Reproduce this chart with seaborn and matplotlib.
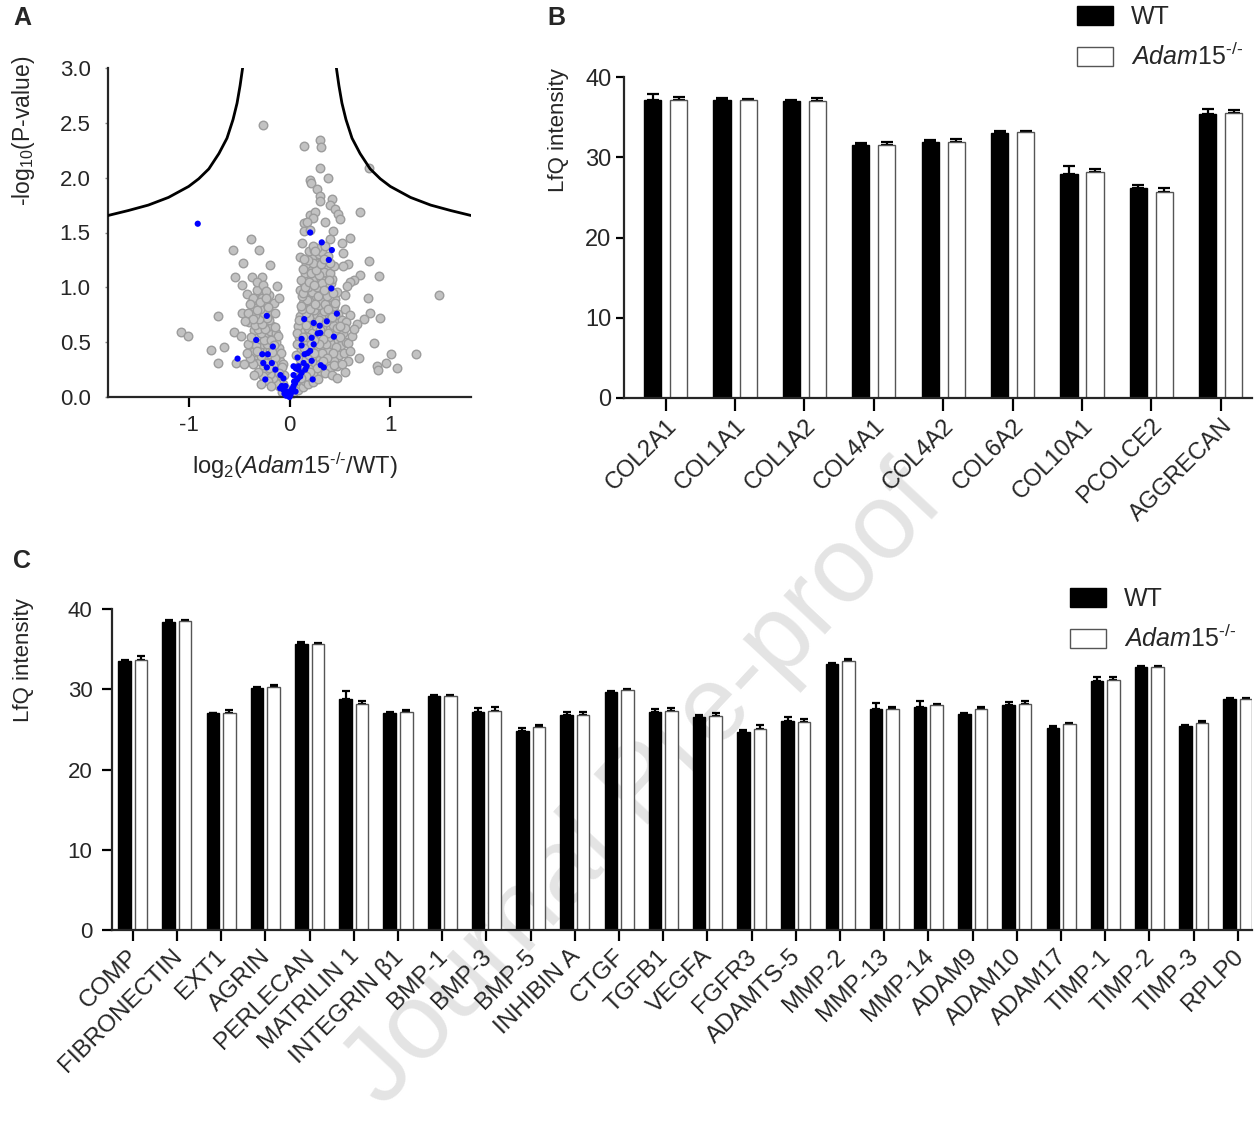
import numpy as np
import pandas as pd
import matplotlib
matplotlib.use("Agg")
import matplotlib.pyplot as plt
import matplotlib.transforms as mtransforms
import seaborn as sns
from matplotlib.patches import Patch
from matplotlib import font_manager

# ---------------- data ----------------
# Panel A: volcano (x = log2 fold change, y = -log10 p)
gray_pts = [
    # right arm
    (0.03,0.04),(0.05,0.09),(0.08,0.06),(0.10,0.12),(0.06,0.15),(0.13,0.09),(0.15,0.15),(0.09,0.19),(0.18,0.12),
    (0.12,0.22),(0.20,0.18),(0.23,0.14),(0.16,0.24),(0.26,0.20),(0.08,0.27),(0.21,0.27),(0.29,0.24),(0.13,0.30),
    (0.25,0.31),(0.33,0.27),(0.18,0.33),(0.10,0.35),(0.30,0.35),(0.37,0.31),(0.22,0.37),(0.15,0.40),(0.27,0.41),
    (0.34,0.39),(0.41,0.36),(0.11,0.44),(0.19,0.45),(0.31,0.45),(0.38,0.43),(0.24,0.48),(0.45,0.41),(0.14,0.50),
    (0.28,0.52),(0.35,0.50),(0.42,0.48),(0.20,0.54),(0.09,0.55),(0.32,0.57),(0.39,0.55),(0.48,0.52),(0.16,0.59),
    (0.25,0.59),(0.36,0.62),(0.44,0.60),(0.12,0.64),(0.21,0.64),(0.29,0.66),(0.40,0.67),(0.17,0.69),(0.33,0.71),
    (0.25,0.72),(0.47,0.70),(0.10,0.74),(0.20,0.76),(0.37,0.75),(0.28,0.78),(0.43,0.79),(0.15,0.80),(0.32,0.82),
    (0.23,0.83),(0.39,0.85),(0.13,0.86),(0.27,0.88),(0.35,0.90),(0.19,0.91),(0.45,0.89),(0.30,0.95),(0.16,0.96),
    (0.24,0.97),(0.38,0.97),(0.21,1.02),(0.33,1.01),(0.14,1.04),(0.28,1.06),(0.41,1.04),(0.18,1.09),(0.25,1.12),
    (0.35,1.10),(0.30,1.16),(0.20,1.17),(0.37,1.18),(0.16,1.21),(0.26,1.22),(0.33,1.25),(0.22,1.28),(0.29,1.30),
    (0.19,1.33),(0.11,0.61),(0.14,0.70),(0.18,0.63),(0.22,0.58),(0.26,0.65),(0.30,0.61),(0.23,0.68),(0.19,0.73),
    (0.27,0.75),(0.31,0.73),(0.16,0.77),(0.24,0.79),(0.34,0.78),(0.21,0.87),(0.29,0.84),(0.17,0.88),(0.26,0.92),
    (0.33,0.94),(0.12,0.92),(0.22,0.96),(0.18,1.00),(0.27,1.00),(0.36,1.03),(0.23,1.07),(0.31,1.08),(0.15,1.13),
    (0.21,1.13),(0.28,1.19),(0.34,1.14),(0.12,0.80),(0.08,0.65),(0.07,0.48),(0.06,0.38),(0.17,0.49),(0.26,0.46),
    (0.21,0.42),(0.16,0.35),(0.30,0.30),(0.12,0.26),(0.23,0.22),(0.36,0.48),(0.32,0.40),(0.40,0.62),(0.43,0.66),
    (0.46,0.57),(0.41,0.72),(0.44,0.83),(0.39,0.91),(0.48,0.76),(0.50,0.63),(0.53,0.58),(0.51,0.47),(0.49,0.38),
    (0.44,0.33),(0.40,0.26),(0.35,0.22),(0.28,0.16),(0.42,0.20),(0.47,0.28),(0.54,0.40),(0.56,0.50),(0.52,0.70),
    (0.55,0.80),(0.47,0.96),(0.42,1.08),(0.40,1.13),(0.44,1.19),(0.40,1.22),(0.36,1.27),(0.24,1.34),(0.32,1.32),
    (0.27,1.36),(0.38,1.29),(0.13,1.17),(0.11,1.07),(0.10,0.98),
    (0.07,0.58),(0.09,0.70),(0.11,0.83),(0.13,0.95),(0.15,1.00),(0.17,0.55),(0.19,0.38),(0.24,0.40),(0.27,0.55),
    (0.29,0.70),(0.31,0.88),(0.35,0.85),(0.37,0.92),(0.32,1.04),(0.29,1.11),(0.26,1.16),(0.23,1.22),(0.18,1.25),
    (0.31,1.21),(0.39,1.07),(0.43,0.95),(0.45,0.75),(0.36,0.68),(0.38,0.58),(0.33,0.53),(0.29,0.48),(0.24,0.52),
    (0.21,0.48),(0.14,0.45),(0.13,0.55),(0.16,0.66),(0.20,0.80),(0.25,0.85),(0.28,0.92),(0.34,0.98),(0.19,1.05),
    (0.24,1.02),(0.38,0.80),(0.42,0.73),(0.47,0.63),(0.50,0.55),(0.46,0.46),(0.43,0.40),(0.37,0.36),(0.33,0.33),
    (0.27,0.26),(0.20,0.23),(0.16,0.19),(0.11,0.17),
    # left arm
    (-0.02,0.04),(-0.04,0.08),(-0.07,0.05),(-0.06,0.12),(-0.10,0.10),(-0.09,0.16),(-0.13,0.13),(-0.12,0.20),
    (-0.16,0.17),(-0.08,0.22),(-0.15,0.24),(-0.19,0.21),(-0.11,0.27),(-0.18,0.28),(-0.23,0.25),(-0.14,0.31),
    (-0.21,0.32),(-0.26,0.29),(-0.09,0.33),(-0.17,0.35),(-0.24,0.36),(-0.29,0.33),(-0.12,0.38),(-0.20,0.39),
    (-0.27,0.40),(-0.33,0.38),(-0.15,0.42),(-0.23,0.43),(-0.30,0.44),(-0.36,0.41),(-0.10,0.45),(-0.18,0.47),
    (-0.26,0.48),(-0.33,0.47),(-0.13,0.50),(-0.21,0.52),(-0.29,0.53),(-0.16,0.55),(-0.24,0.57),(-0.32,0.56),
    (-0.19,0.60),(-0.27,0.61),(-0.13,0.58),(-0.35,0.61),(-0.22,0.64),(-0.30,0.66),(-0.17,0.65),(-0.25,0.68),
    (-0.33,0.70),(-0.20,0.70),(-0.28,0.73),(-0.37,0.74),(-0.23,0.76),(-0.31,0.78),(-0.18,0.77),(-0.26,0.81),
    (-0.35,0.82),(-0.21,0.82),(-0.29,0.86),(-0.24,0.88),(-0.33,0.91),(-0.38,0.86),(-0.20,0.93),(-0.27,0.95),
    (-0.32,0.98),(-0.08,0.40),(-0.06,0.30),(-0.05,0.20),(-0.21,0.15),(-0.26,0.19),(-0.31,0.23),(-0.18,0.10),
    (-0.36,0.30),(-0.39,0.36),(-0.41,0.48),(-0.38,0.55),(-0.40,0.68),(-0.11,0.56),(-0.14,0.64),
    (-0.07,0.27),(-0.10,0.22),(-0.14,0.36),(-0.19,0.43),(-0.22,0.48),(-0.25,0.52),(-0.28,0.58),(-0.31,0.62),
    (-0.34,0.66),(-0.18,0.52),(-0.15,0.47),(-0.24,0.62),(-0.27,0.67),(-0.22,0.72),(-0.30,0.71),(-0.34,0.75),
    (-0.25,0.77),(-0.29,0.80),(-0.32,0.85),(-0.27,0.90),(-0.36,0.88),(-0.16,0.29),(-0.20,0.26),(-0.23,0.31),
    (-0.28,0.37),(-0.32,0.42),(-0.17,0.41),
    # outliers
    (-0.26,2.48),(0.30,2.34),(0.315,2.28),(0.14,2.29),(0.30,2.09),(0.79,2.09),(0.20,1.98),(0.215,1.95),
    (0.38,2.00),(0.27,1.90),(0.42,1.81),(0.30,1.83),(0.30,1.79),(0.405,1.75),(0.45,1.71),(0.48,1.67),
    (0.50,1.62),(0.70,1.69),(0.205,1.66),(0.255,1.69),(0.23,1.63),(0.14,1.59),(0.17,1.60),(0.35,1.60),
    (0.14,1.51),(0.20,1.52),(0.43,1.51),(0.60,1.45),(0.52,1.40),(0.405,1.44),(0.35,1.38),(0.12,1.40),
    (0.23,1.38),(0.255,1.33),(-0.385,1.44),(-0.56,1.34),(-0.30,1.34),(0.53,1.31),(0.10,1.28),(0.14,1.26),
    (0.34,1.26),(-0.46,1.22),(-0.19,1.20),(0.79,1.24),(0.58,1.21),(0.53,1.19),(-0.54,1.09),(-0.37,1.09),
    (-0.275,1.09),(-0.475,1.02),(-0.325,1.05),(-0.26,1.02),(-0.12,1.01),(-0.23,0.97),(0.70,1.11),(0.64,1.07),
    (0.60,1.05),(0.57,1.01),(0.89,1.10),(1.48,0.93),(0.55,0.93),(0.78,0.90),(0.45,0.86),(-0.425,0.94),
    (-0.36,0.90),(-0.39,0.85),(-0.29,0.87),(-0.23,0.90),(-0.15,0.86),(-0.10,0.90),(-0.475,0.77),(-0.41,0.77),
    (-0.325,0.79),(-0.215,0.82),(-0.14,0.77),(-0.36,0.71),(-0.71,0.74),(-0.44,0.69),(0.60,0.75),(0.80,0.77),
    (0.90,0.72),(0.74,0.71),(0.67,0.67),(0.56,0.68),(0.55,0.63),(0.50,0.65),(-1.08,0.59),(-1.01,0.56),
    (-0.55,0.59),(-0.48,0.56),(-0.645,0.46),(-0.78,0.43),(-0.71,0.31),(-0.53,0.31),(0.84,0.49),(0.58,0.49),
    (0.60,0.42),(0.69,0.36),(1.25,0.39),(1.01,0.39),(0.96,0.31),(0.87,0.28),(0.88,0.25),(1.07,0.26),
    (0.55,0.23),(0.47,0.17),(0.44,0.29),(-0.42,0.40),(-0.45,0.30),(-0.35,0.20),(-0.28,0.12),(0.58,0.33),
    (0.52,0.30),(0.62,0.56),(0.64,0.62),
]
blue_pts = [
    (-0.91,1.58),(0.205,1.50),(0.32,1.41),(0.42,1.34),(0.39,1.25),(0.415,0.99),(0.47,0.76),(-0.225,0.74),
    (0.146,0.71),(0.24,0.675),(0.37,0.69),(0.30,0.65),(0.28,0.58),(0.305,0.585),(0.44,0.55),(0.12,0.53),
    (0.22,0.54),(-0.33,0.52),(0.12,0.47),(0.24,0.48),(-0.165,0.46),(-0.27,0.39),(-0.215,0.39),(0.205,0.42),
    (0.18,0.40),(0.15,0.39),(0.08,0.36),(-0.515,0.35),(0.14,0.31),(0.22,0.33),(-0.26,0.31),(-0.175,0.31),
    (-0.225,0.27),(0.04,0.28),(0.09,0.28),(0.17,0.28),(0.31,0.29),(0.34,0.27),(-0.14,0.25),(-0.24,0.16),
    (-0.09,0.20),(-0.06,0.17),(0.23,0.16),(0.04,0.20),(0.0,0.0),(-0.027,0.05),(-0.04,0.10),(-0.076,0.10),
    (0.02,0.066),(0.04,0.10),(0.056,0.127),(0.073,0.157),(0.106,0.187),(0.09,0.25),(0.12,0.22),(0.156,0.25),
    (0.063,0.26),(-0.01,0.036),(0.017,0.042),(0.033,0.08),(-0.06,0.066),(-0.093,0.08),(0.046,0.14),
    (0.083,0.17),(-0.033,0.012),(0.01,0.02),(0.06,0.05),(-0.05,0.03),
]
# significance threshold curve
curve_left_x = [-1.80, -1.60, -1.40, -1.20, -1.00, -0.90, -0.80, -0.70, -0.62, -0.56, -0.52, -0.49, -0.465]
curve_left_y = [1.655, 1.70, 1.75, 1.82, 1.92, 1.99, 2.08, 2.22, 2.36, 2.53, 2.68, 2.84, 3.00]
curve_right_x = [0.465, 0.49, 0.52, 0.56, 0.62, 0.70, 0.80, 0.90, 1.00, 1.20, 1.40, 1.60, 1.80]
curve_right_y = [3.00, 2.84, 2.68, 2.53, 2.36, 2.22, 2.08, 1.99, 1.92, 1.82, 1.75, 1.70, 1.655]

# Panel B
b_genes = ["COL2A1", "COL1A1", "COL1A2", "COL4A1", "COL4A2", "COL6A2", "COL10A1", "PCOLCE2", "AGGRECAN"]
b_wt = [37.17, 37.10, 36.96, 31.50, 31.90, 33.04, 27.90, 26.20, 35.40]
b_wt_err = [0.67, 0.33, 0.20, 0.25, 0.25, 0.20, 0.96, 0.30, 0.67]
b_ko = [37.17, 37.10, 37.04, 31.50, 31.96, 33.17, 28.20, 25.70, 35.50]
b_ko_err = [0.40, 0.17, 0.30, 0.38, 0.33, 0.12, 0.30, 0.46, 0.33]

# Panel C
c_genes = ["COMP", "FIBRONECTIN", "EXT1", "AGRIN", "PERLECAN", "MATRILIN 1", "INTEGRIN β1", "BMP-1",
           "BMP-3", "BMP-5", "INHIBIN A", "CTGF", "TGFB1", "VEGFA", "FGFR3", "ADAMTS-5", "MMP-2",
           "MMP-13", "MMP-14", "ADAM9", "ADAM10", "ADAM17", "TIMP-1", "TIMP-2", "TIMP-3", "RPLP0"]
c_wt = [33.5, 38.4, 27.0, 30.2, 35.6, 28.8, 27.0, 29.2, 27.2, 24.8, 26.8, 29.6, 27.2, 26.5, 24.7,
        26.1, 33.2, 27.5, 27.8, 26.9, 28.0, 25.2, 31.0, 32.75, 25.4, 28.8]
c_wt_err = [0.2, 0.25, 0.1, 0.1, 0.35, 1.0, 0.2, 0.1, 0.5, 0.35, 0.4, 0.2, 0.3, 0.35, 0.27,
            0.4, 0.1, 0.75, 0.7, 0.2, 0.4, 0.2, 0.5, 0.13, 0.1, 0.13]
c_ko = [33.6, 38.5, 27.1, 30.3, 35.6, 28.2, 27.2, 29.2, 27.3, 25.3, 26.8, 29.9, 27.3, 26.7, 25.1,
        25.9, 33.5, 27.6, 28.0, 27.5, 28.1, 25.7, 31.2, 32.8, 25.8, 28.8]
c_ko_err = [0.5, 0.1, 0.35, 0.2, 0.15, 0.35, 0.2, 0.1, 0.45, 0.2, 0.35, 0.1, 0.4, 0.35, 0.45,
            0.4, 0.3, 0.2, 0.1, 0.25, 0.4, 0.13, 0.35, 0.15, 0.27, 0.13]

ko_label = r"$\mathit{Adam15}^{\text{-/-}}$"

# ---------------- style ----------------
sns.set_theme(style="ticks")
names = {f.name for f in font_manager.fontManager.ttflist}
narrow = "Liberation Sans Narrow" if "Liberation Sans Narrow" in names else "Liberation Sans"
plt.rcParams["font.family"] = ["Liberation Sans", "DejaVu Sans"]
plt.rcParams["mathtext.fontset"] = "custom"
plt.rcParams["mathtext.rm"] = "Liberation Sans"
plt.rcParams["mathtext.it"] = "Liberation Sans:italic"
plt.rcParams["mathtext.bf"] = "Liberation Sans:bold"
plt.rcParams["axes.linewidth"] = 1.5

W, H = 1258, 1141
fig = plt.figure(figsize=(W / 100, H / 100), dpi=100)


def fax(x0, y0, x1, y1):
    return fig.add_axes([x0 / W, 1 - y1 / H, (x1 - x0) / W, (y1 - y0) / H])


def style_axes(ax):
    sns.despine(ax=ax)
    ax.set_facecolor("none")
    ax.spines["left"].set_linewidth(1.6)
    ax.spines["bottom"].set_linewidth(1.6)


# watermark (behind everything)
fig.text(0.512, 0.310, "Journal Pre-proof", rotation=47, fontsize=77, color="#e4e4e4",
         ha="center", va="center", zorder=-10)

# ---------------- Panel A ----------------
axA = fax(108, 68, 471, 397)
style_axes(axA)
gdf = pd.DataFrame(gray_pts, columns=["fc", "p"])
bdf = pd.DataFrame(blue_pts, columns=["fc", "p"])
sns.scatterplot(data=gdf, x="fc", y="p", ax=axA, s=38, color="#c2c2c2", edgecolor="#9c9c9c",
                linewidth=1.0, zorder=2, clip_on=False)
sns.scatterplot(data=bdf, x="fc", y="p", ax=axA, s=20, color="#0000ff", edgecolor="none",
                linewidth=0, zorder=3, clip_on=False)
sns.lineplot(x=curve_left_x, y=curve_left_y, sort=False, estimator=None, ax=axA, color="black", lw=2, zorder=4)
sns.lineplot(x=curve_right_x, y=curve_right_y, sort=False, estimator=None, ax=axA, color="black", lw=2, zorder=4)
axA.set_xlim(-1.8, 1.8)
axA.set_ylim(0, 3.0)
axA.set_xticks([-1, 0, 1])
axA.set_xticklabels(["-1", "0", "1"])
axA.set_yticks(np.arange(0, 3.01, 0.5))
axA.set_yticklabels([f"{v:.1f}" for v in np.arange(0, 3.01, 0.5)])
axA.tick_params(axis="x", length=7, width=1.6, labelsize=16, pad=6, color="black")
axA.tick_params(axis="y", length=2.5, width=1.0, labelsize=16, pad=10, color="#888888")
axA.set_xlabel(r"log$_2$($\mathit{Adam15}^{\text{-/-}}$/WT)", fontsize=17)
axA.set_ylabel(r"-log$_{10}$(P-value)", fontsize=16.5)
axA.xaxis.set_label_coords(0.515, -0.165)
axA.yaxis.set_label_coords(-0.196, 0.81)


# ---------------- bar panels ----------------
def bar_panel(ax, genes, wt, wt_err, ko, ko_err, width, gap, capsize):
    n = len(genes)
    df = pd.DataFrame({"gene": genes * 2, "group": ["WT"] * n + ["KO"] * n, "val": wt + ko})
    sns.barplot(data=df, x="gene", y="val", hue="group", hue_order=["WT", "KO"],
                palette={"WT": "black", "KO": "white"}, order=genes, width=width, gap=gap,
                errorbar=None, legend=False, ax=ax, linewidth=1.0, saturation=1)
    errs = wt_err + ko_err
    xs, hs = [], []
    for p in ax.patches:
        fc = p.get_facecolor()
        p.set_edgecolor("black" if fc[0] < 0.5 else "#555555")
        xs.append(p.get_x() + p.get_width() / 2)
        hs.append(p.get_height())
    ax.errorbar(xs, hs, yerr=[np.zeros(len(errs)), errs], fmt="none", ecolor="black",
                elinewidth=1.6, capsize=capsize, capthick=1.6, zorder=1)
    for p in ax.patches:
        p.set_zorder(2)
    ax.set_ylim(0, 40)
    ax.set_yticks([0, 10, 20, 30, 40])
    ax.set_xlabel("")
    ax.set_ylabel("LfQ intensity", fontsize=16)


axB = fax(624, 77, 1252, 398)
style_axes(axB)
bar_panel(axB, b_genes, b_wt, b_wt_err, b_ko, b_ko_err, width=0.75, gap=0.345, capsize=4)
axB.set_xlim(-0.6, 8.45)
axB.tick_params(axis="x", length=9, width=1.6, pad=3, color="black")
axB.tick_params(axis="y", length=6, width=1.6, labelsize=17, pad=3, color="black")
for t in axB.get_yticklabels():
    t.set_fontfamily(narrow)
axB.set_xticks(range(len(b_genes)))
axB.set_xticklabels(b_genes, rotation=45, ha="right", rotation_mode="anchor", fontsize=17)
axB.yaxis.set_label_coords(-0.088, 0.835)

axC = fax(112, 609, 1252, 930)
style_axes(axC)
bar_panel(axC, c_genes, c_wt, c_wt_err, c_ko, c_ko_err, width=0.746, gap=0.24, capsize=3)
axC.set_xlim(-0.47, 25.32)
axC.tick_params(axis="x", length=8, width=1.6, pad=3, color="black")
axC.tick_params(axis="y", length=7, width=1.6, labelsize=16, pad=7, color="black")
axC.set_xticks(range(len(c_genes)))
axC.set_xticklabels(c_genes, rotation=45, ha="right", rotation_mode="anchor", fontsize=17.5)
shift = mtransforms.ScaledTranslation(-6 / 100, 0, fig.dpi_scale_trans)
for t in axC.get_xticklabels():
    t.set_transform(t.get_transform() + shift)
axC.yaxis.set_label_coords(-0.068, 0.84)

# legends
handles = [Patch(facecolor="black", edgecolor="black", linewidth=1.0),
           Patch(facecolor="white", edgecolor="#555555", linewidth=1.0)]
for (lx, ly) in [(1077, 5), (1070, 587)]:
    fig.legend(handles, ["WT", ko_label], loc="upper left", bbox_to_anchor=(lx / W, 1 - ly / H),
               frameon=False, fontsize=18, handlelength=1.45, handleheight=0.8, handletextpad=0.7,
               labelspacing=0.55, borderpad=0, borderaxespad=0)

# panel letters
fig.text(13 / W, 1 - 18 / H, "A", fontsize=18, fontweight="bold", va="center", ha="left")
fig.text(547 / W, 1 - 18 / H, "B", fontsize=18, fontweight="bold", va="center", ha="left")
fig.text(13 / W, 1 - 561 / H, "C", fontsize=18, fontweight="bold", va="center", ha="left")

fig.savefig("out.png", dpi=100)
